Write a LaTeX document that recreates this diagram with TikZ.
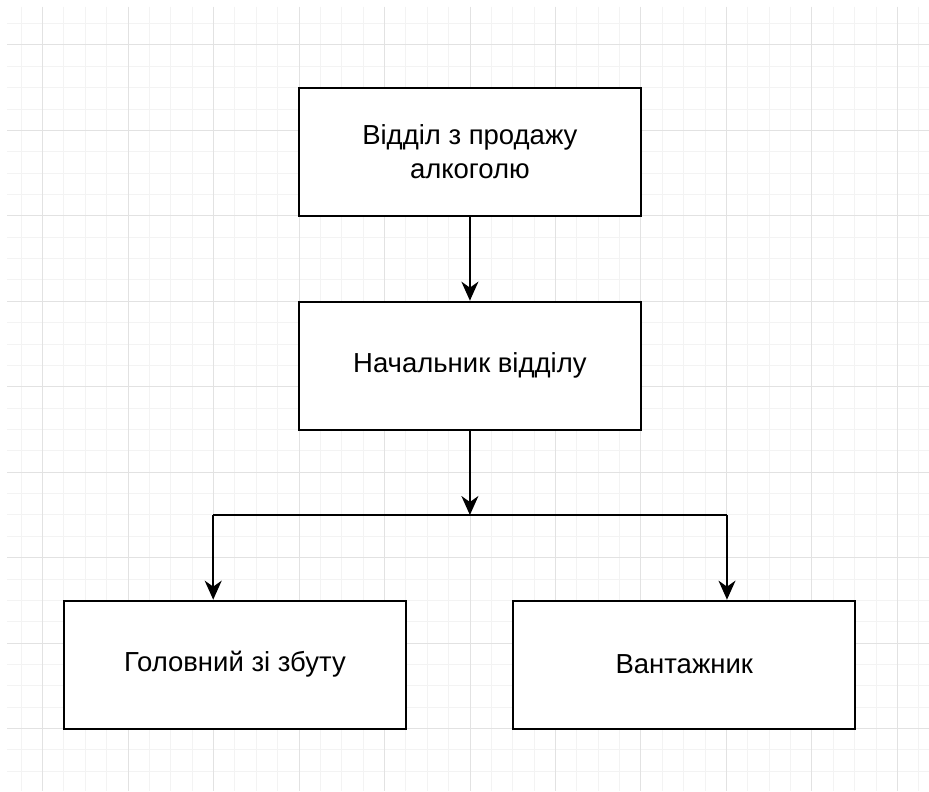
\documentclass[tikz,border=0pt]{standalone}
\usepackage{fontspec}
\setmainfont{Liberation Sans}
\usetikzlibrary{arrows.meta}

\definecolor{gridminor}{HTML}{F3F3F3}
\definecolor{gridmajor}{HTML}{E2E2E2}
\definecolor{inkline}{HTML}{000000}

\tikzset{
  box/.style={draw=inkline, line width=1.9pt, fill=white,
    minimum width=342pt, minimum height=128pt, inner sep=0pt,
    align=center, text=black,
    font=\fontsize{27.5}{34}\selectfont},
  link/.style={draw=inkline, line width=1.9pt},
  arr/.style={link, -{Stealth[length=19pt, width=17pt, inset=6pt]}},
}

\begin{document}
\begin{tikzpicture}[x=1pt, y=-1pt]
  \useasboundingbox (0,0) rectangle (929,792);
  \fill[white] (0,0) rectangle (929,792);

  % background grid: minor cells of 21.37pt, every fourth line darker
  \begin{scope}
    \clip (7,7) rectangle (929,791);
    \foreach \i in {-1,...,41} {
      \pgfmathsetmacro{\gx}{42.6+21.37*\i}
      \draw[gridminor, line width=1pt] (\gx,7) -- (\gx,791);
    }
    \foreach \j in {-1,...,35} {
      \pgfmathsetmacro{\gy}{45+21.36*\j}
      \draw[gridminor, line width=1pt] (7,\gy) -- (929,\gy);
    }
    \foreach \i in {0,...,10} {
      \pgfmathsetmacro{\gx}{42.6+85.48*\i}
      \draw[gridmajor, line width=1pt] (\gx,7) -- (\gx,791);
    }
    \foreach \j in {0,...,8} {
      \pgfmathsetmacro{\gy}{45+85.44*\j}
      \draw[gridmajor, line width=1pt] (7,\gy) -- (929,\gy);
    }
  \end{scope}

  % organisation chart
  \node[box] (dept)  at (469.9,151.9) {Відділ з продажу\\алкоголю};
  \node[box] (head)  at (469.9,365.6) {Начальник відділу};
  \node[box] (sales) at (234.9,664.6) {Головний зі збуту};
  \node[box] (load)  at (684.3,664.6) {Вантажник};

  \coordinate (fork)  at (469.9,515.0);
  \coordinate (forkL) at (213.2,515.0);
  \coordinate (forkR) at (727.0,515.0);

  \draw[arr] (dept.south) -- (head.north);
  \draw[arr] (head.south) -- (fork);
  \draw[link] (forkL) -- (forkR);
  \draw[arr] (forkL) -- (forkL |- sales.north);
  \draw[arr] (forkR) -- (forkR |- load.north);
\end{tikzpicture}
\end{document}
